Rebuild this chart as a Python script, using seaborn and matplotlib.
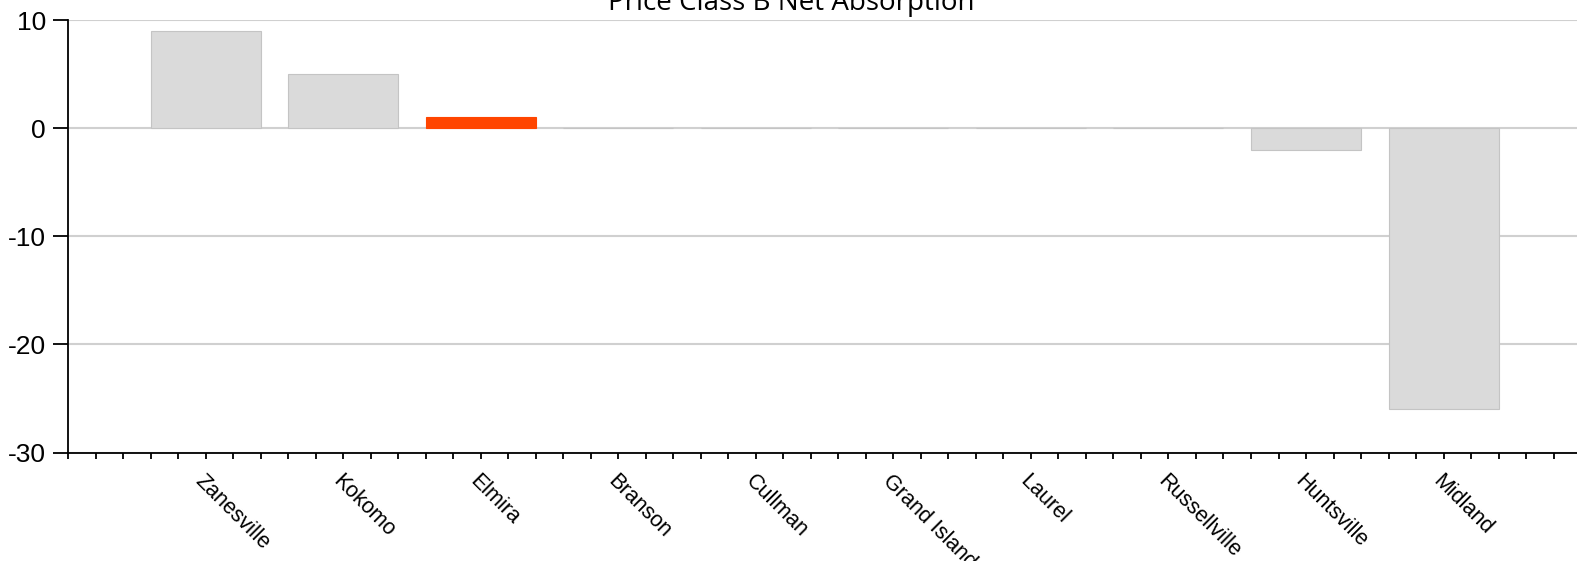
import matplotlib
matplotlib.use("Agg")
import matplotlib.pyplot as plt
from matplotlib.ticker import FixedLocator
import seaborn as sns
import numpy as np
import pandas as pd

# ---- data ----
cities = ["Zanesville", "Kokomo", "Elmira", "Branson", "Cullman",
          "Grand Island", "Laurel", "Russellville", "Huntsville", "Midland"]
net_absorption = [9, 5, 1, 0, 0, 0, 0, 0, -2, -26]
highlight_city = "Elmira"
y_ticks = [-30, -20, -10, 0, 10]
title = "Price Class B Net Absorption"

df = pd.DataFrame({"city": cities, "value": net_absorption})
df["group"] = np.where(df["city"] == highlight_city, "highlight", "other")

sns.set_theme(style="white")
plt.rcParams["font.family"] = ["Liberation Sans", "DejaVu Sans"]

W, H = 1577, 561
fig = plt.figure(figsize=(W / 100, H / 100), dpi=100)
ax = fig.add_axes([68 / W, (H - 452.5) / H, 1 - 68 / W, (452.5 - 20.1) / H])

sns.barplot(data=df, x="city", y="value", hue="group",
            palette={"highlight": "#ff4500", "other": "#dadada"},
            order=cities, dodge=False, width=0.8, legend=False,
            saturation=1, edgecolor="#c4c4c4", linewidth=0.8, ax=ax, zorder=3)
# no visible edge on the highlighted bar
for p in ax.patches:
    fc = p.get_facecolor()
    if fc[0] > 0.95 and fc[1] < 0.4:
        p.set_edgecolor(fc)

ax.set_xlim(-1, 9.97)
ax.set_ylim(-30, 10)
ax.set_yticks(y_ticks)
ax.set_yticklabels([str(v) for v in y_ticks], color="black")
ax.set_xlabel("")
ax.set_ylabel("")

# x ticks: major at categories, minor every 0.2
ax.set_xticks(range(len(cities)))
ax.set_xticklabels(cities, rotation=-45, ha="left", va="top",
                   rotation_mode="anchor", fontsize=15.5, color="black")
minor = [round(v, 1) for v in np.arange(-1, 10.0, 0.2)
         if abs(v - round(v)) > 1e-6 or round(v) == -1]
ax.xaxis.set_minor_locator(FixedLocator(minor))
ax.tick_params(axis="x", which="both", length=4, width=1.3, color="black",
               direction="out", bottom=True, pad=9)
ax.tick_params(axis="y", which="major", length=11, width=1.3, color="black",
               direction="out", left=True, labelsize=19, pad=5)

ax.yaxis.grid(True, color="#d0d0d0", linewidth=1.5, zorder=0)
ax.xaxis.grid(False)
ax.set_axisbelow(True)

for s in ["top", "right"]:
    ax.spines[s].set_visible(False)
for s in ["left", "bottom"]:
    ax.spines[s].set_color("black")
    ax.spines[s].set_linewidth(1.3)
    ax.spines[s].set_zorder(5)

fig.text(791.5 / W, 1 - 10 / H, title, ha="center", va="baseline",
         fontsize=20, family=["Open Sans", "DejaVu Sans"], color="black")

fig.savefig("out.png", dpi=100)
